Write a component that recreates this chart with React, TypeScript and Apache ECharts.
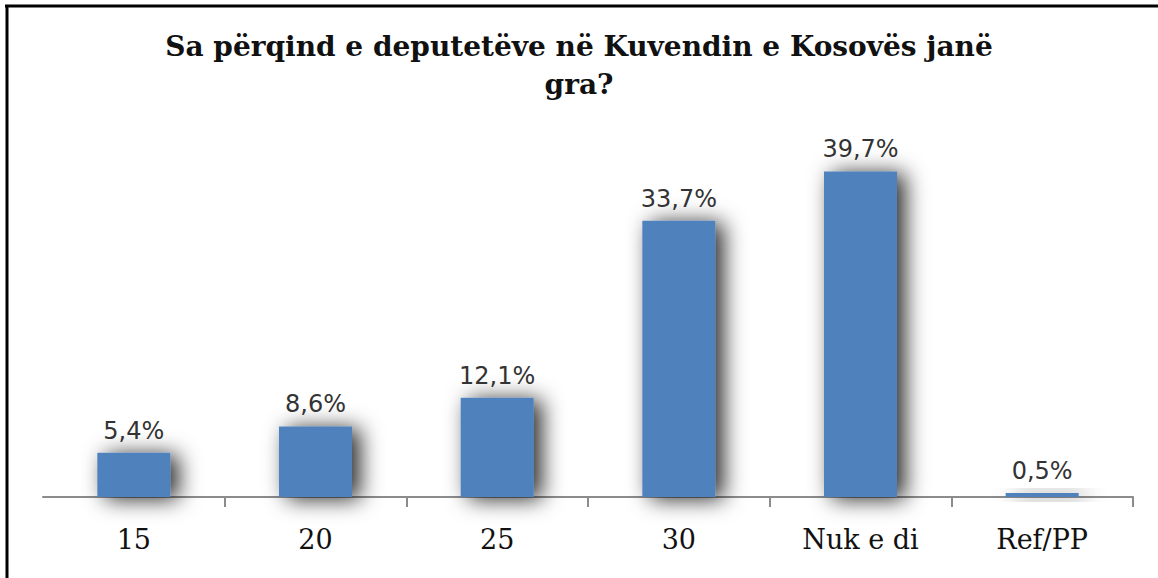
import React, { useEffect, useRef } from "react";
import * as echarts from "echarts";

const categories = ["15", "20", "25", "30", "Nuk e di", "Ref/PP"];
const values = [5.4, 8.6, 12.1, 33.7, 39.7, 0.5];
const titleText = "Sa përqind e deputetëve në Kuvendin e Kosovës janë\ngra?";

export default function App() {
  const ref = useRef<HTMLDivElement>(null);
  useEffect(() => {
    const chart = echarts.init(ref.current!, null, { renderer: "svg" });
    chart.setOption({
      animation: false,
      backgroundColor: "#ffffff",
      title: {
        text: titleText,
        left: "center",
        top: 22,
        textStyle: {
          fontFamily: "'DejaVu Serif'",
          fontWeight: "bold",
          fontSize: 28,
          lineHeight: 38,
          color: "#111",
        },
      },
      grid: { left: 43, right: 25, top: 128, bottom: 81 },
      xAxis: {
        type: "category",
        data: categories,
        axisLine: { lineStyle: { color: "#8c8c8c", width: 2 } },
        axisTick: {
          show: true,
          length: 10,
          interval: (i: number) => i > 0,
          lineStyle: { color: "#8c8c8c", width: 2 },
        },
        axisLabel: {
          fontFamily: "'DejaVu Serif'",
          fontSize: 27,
          color: "#111",
          margin: 29,
        },
      },
      yAxis: {
        type: "value",
        min: 0,
        max: 45,
        show: false,
        splitLine: { show: false },
      },
      series: [
        {
          type: "bar",
          data: values,
          barWidth: 73,
          itemStyle: {
            color: "#4f81bd",
            shadowColor: "rgba(0,0,0,0.85)",
            shadowBlur: 22,
            shadowOffsetX: 8,
            shadowOffsetY: 2,
          },
          label: {
            show: true,
            position: "top",
            distance: 10,
            formatter: (p: any) => p.value.toFixed(1).replace(".", ",") + "%",
            fontFamily: "'DejaVu Sans'",
            fontSize: 24,
            color: "#333",
          },
        },
      ],
      graphic: [
        { type: "line", shape: { x1: 5, y1: 6, x2: 1158, y2: 6 }, style: { stroke: "#000", lineWidth: 3 } },
        { type: "line", shape: { x1: 7, y1: 5, x2: 7, y2: 578 }, style: { stroke: "#000", lineWidth: 3 } },
      ],
    });
    return () => chart.dispose();
  }, []);
  return (
    <div
      ref={ref}
      style={{ position: "fixed", left: 0, top: 0, width: 1158, height: 578 }}
    />
  );
}
